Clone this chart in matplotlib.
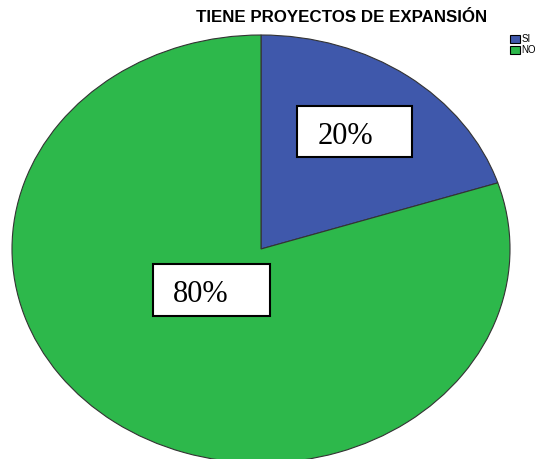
import matplotlib.pyplot as plt

categories = ['SI', 'NO']
values = [20, 80]
labels = ['20%', '80%']
colors = ['#3f58ab', '#2db84b']

fig = plt.figure(figsize=(5.44, 4.59), dpi=100)
ax = fig.add_axes([0, 0, 1, 1])

wedges, _ = ax.pie(values, colors=colors, startangle=90, counterclock=False,
                   wedgeprops=dict(edgecolor='#333333', linewidth=0.8))
# elliptical pie: stretch x and y independently
ax.set_aspect('auto')
ax.set_xlim(-261 / 249, (544 - 261) / 249)
ax.set_ylim(-(459 - 249) / 214, 249 / 214)
ax.axis('off')

# label boxes
box_pos = [(297, 106, 115, 51), (153, 264, 117, 52)]
for (x, y, w, h), lab in zip(box_pos, labels):
    fig.patches.append(plt.Rectangle((x / 544, 1 - (y + h) / 459), w / 544, h / 459,
                                     transform=fig.transFigure, facecolor='white',
                                     edgecolor='black', linewidth=1.5))
    fig.text((x + 48) / 544, 1 - (y + h / 2 + 5) / 459, lab, ha='center', va='center',
             fontsize=22, family='Liberation Serif')

fig.text(342 / 544, 1 - 18 / 459, 'TIENE PROYECTOS DE EXPANSIÓN', ha='center', va='center',
         fontsize=12.2, fontweight='bold', family='Liberation Sans')

leg = fig.legend(wedges, categories, loc='upper left', bbox_to_anchor=(510 / 544, 1 - 34 / 459),
                 frameon=False, handlelength=1.0, handleheight=0.9,
                 handletextpad=0.2, labelspacing=0.1, borderpad=0, borderaxespad=0,
                 prop={'family': 'Liberation Sans', 'size': 7})
for h in leg.legend_handles:
    h.set_edgecolor('black')
    h.set_linewidth(0.8)

fig.savefig('out.png', dpi=100)
